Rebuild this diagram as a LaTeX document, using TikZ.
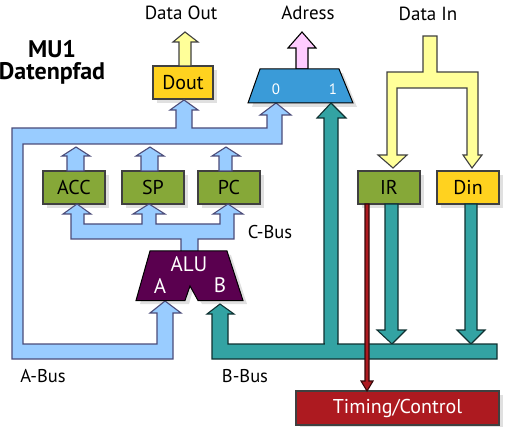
\documentclass[tikz,border=0pt]{standalone}
\usepackage{fontspec}
\setmainfont{PT Sans}
\tikzset{
  x=1pt,y=-1pt,
  edgeline/.style={draw=black!75!blue!70,line width=1.1pt,line join=miter},
  busA/.style={edgeline,fill=busblue},
  busB/.style={edgeline,draw=black!70!bteal,fill=bteal},
  busY/.style={edgeline,fill=byellow},
  busP/.style={edgeline,draw=black,fill=bpink},
  busR/.style={edgeline,draw=black!70!bred,fill=bred},
  boxbase/.style={draw=black!75,line width=1.1pt,minimum height=33pt,inner sep=0pt,font=\fontsize{20}{24}\selectfont},
  green box/.style={boxbase,fill=bgreen,minimum width=62pt},
  gold box/.style={boxbase,fill=bgold,minimum width=60pt},
  lab/.style={font=\fontsize{19}{22}\selectfont,inner sep=0pt},
  alulab/.style={font=\fontsize{21}{24}\selectfont,inner sep=0pt,text=white},
  busname/.style={font=\fontsize{18.5}{22}\selectfont,inner sep=0pt},
  title/.style={font=\fontsize{24}{28}\selectfont\bfseries,inner sep=0pt},
  muxlab/.style={font=\fontsize{15}{18}\selectfont,text=white,inner sep=0pt},
}
\definecolor{busblue}{HTML}{99CCFF}
\definecolor{bteal}{HTML}{33A3A3}
\definecolor{byellow}{HTML}{FFFF99}
\definecolor{bpink}{HTML}{FFCCFF}
\definecolor{bred}{HTML}{AD1A20}
\definecolor{bgreen}{HTML}{86A838}
\definecolor{bgold}{HTML}{FFD21F}
\definecolor{bmux}{HTML}{3A9BD8}
\definecolor{balu}{HTML}{5A004F}
\begin{document}
\begin{tikzpicture}
\useasboundingbox (0,0) rectangle (505,427);
% shadows
\foreach \a/\b/\c/\d in {153/66/213/99,43/171/105/204,122/171/184/204,198/171/260/204,358/171/420/204,437/171/499/204,296/391/499/425}
  \fill[black!12] (\a+4,\b+4) rectangle (\c+4,\d+4);
\fill[black!12] (264,73) -- (343,73) -- (357,107) -- (252,107) -- cycle;
\fill[black!12] (154,255) -- (231,255) -- (247,304) -- (202,304) -- (193,290) -- (189,304) -- (140,304) -- cycle;
% boxes
\node[gold box]  (dout) at (183,82.5) {Dout};
\node[green box] (acc) at (74,187.5) {ACC};
\node[green box] (sp) at (153,187.5) {SP};
\node[green box] (pc) at (229,187.5) {PC};
\node[green box] (ir) at (389,187.5) {IR};
\node[gold box,minimum width=62pt] (din) at (468,187.5) {Din};
\node[boxbase,fill=bred,minimum width=203pt,minimum height=34pt,text=white] (tc) at (397.5,408) {Timing/Control};
% yellow out
\draw[busY,draw=black!75] (179,66) -- (179,42) -- (173,42) -- (185,32) -- (198,42) -- (191,42) -- (191,66) -- cycle;
% A bus
\draw[busA] (176,128) -- (176,110) -- (170,110) -- (184,100) -- (198,110) -- (192,110) -- (192,128)
  -- (267,128) -- (267,115) -- (260,115) -- (276,103) -- (291,115) -- (282,115) -- (282,144)
  -- (23,144) -- (23,344) -- (157,344) -- (157,313) -- (150,313) -- (165,301) -- (181,313) -- (173,313) -- (173,359)
  -- (12,359) -- (12,128) -- cycle;
% register outputs
\draw[busA] (67,171) -- (67,156) -- (62,156) -- (76,147) -- (90,156) -- (84,156) -- (84,171) -- cycle;
\draw[busA] (141,171) -- (141,156) -- (136,156) -- (150,147) -- (164,156) -- (158,156) -- (158,171) -- cycle;
\draw[busA] (219,171) -- (219,156) -- (212,156) -- (226,147) -- (240,156) -- (232,156) -- (232,171) -- cycle;
% C bus
\draw[busA] (181,252) -- (181,239) -- (71,239) -- (71,214) -- (63,214) -- (77,204) -- (91,214) -- (84,214) -- (84,224)
  -- (142,224) -- (142,214) -- (133,214) -- (149,204) -- (165,214) -- (156,214) -- (156,224)
  -- (220,224) -- (220,214) -- (213,214) -- (228,204) -- (243,214) -- (234,214) -- (234,239)
  -- (198,239) -- (198,252) -- cycle;
% ALU
\draw[draw=black,fill=balu,line width=1pt] (150,251) -- (227,251) -- (243,300.5) -- (198,300.5) -- (190,286) -- (185,300.5) -- (136,300.5) -- cycle;
\node[alulab] (alu) at (189,264) {ALU};
\node[alulab] (alua) at (160,286) {A};
\node[alulab] (alub) at (220,285) {B};
% mux
\draw[busP] (296,69) -- (296,48) -- (288,48) -- (302,32) -- (316,48) -- (308,48) -- (308,69) -- cycle;
\draw[draw=black,fill=bmux,line width=1pt] (260,69) -- (339,69) -- (353,103) -- (248,103) -- cycle;
\node[muxlab] (m0) at (276,89) {0};
\node[muxlab] (m1) at (333,89) {1};
% teal
\draw[busB] (324,344) -- (324,118) -- (317,118) -- (331,103) -- (346,118) -- (338,118) -- (338,344) -- cycle;
\draw[busB] (385,204) -- (385,330) -- (377,330) -- (392,344) -- (406,330) -- (398,330) -- (398,204) -- cycle;
\draw[busB] (465,204) -- (465,330) -- (457,330) -- (471,344) -- (485,330) -- (477,330) -- (477,204) -- cycle;
\draw[busB] (228,344) -- (497,344) -- (497,359) -- (212,359) -- (212,314) -- (207,314) -- (220,304) -- (234,314) -- (228,314) -- cycle;
\fill[bteal] (324.6,343) rectangle (337.4,345);
% yellow in
\draw[busY,draw=black!75] (423,36) -- (437,36) -- (437,72) -- (478,72) -- (478,155) -- (482,155) -- (472,168) -- (463,155) -- (467,155) -- (467,88)
  -- (397,88) -- (397,155) -- (407,155) -- (393,168) -- (378,155) -- (387,155) -- (387,72) -- (423,72) -- cycle;
% red
\draw[busR] (365,204) -- (365,381) -- (361,381) -- (367,391) -- (373,381) -- (369,381) -- (369,204) -- cycle;
% labels
\node[lab] (dataout) at (181,13) {Data Out};
\node[lab] (adress) at (308,13) {Adress};
\node[lab] (datain) at (428,14) {Data In};
\node[title] (mu) at (52,49) {MU1};
\node[title] (dp) at (52,73) {Datenpfad};
\node[busname] (abus) at (43,376) {A-Bus};
\node[busname] (bbus) at (245,376) {B-Bus};
\node[busname] (cbus) at (270,232) {C-Bus};
\end{tikzpicture}
\end{document}
